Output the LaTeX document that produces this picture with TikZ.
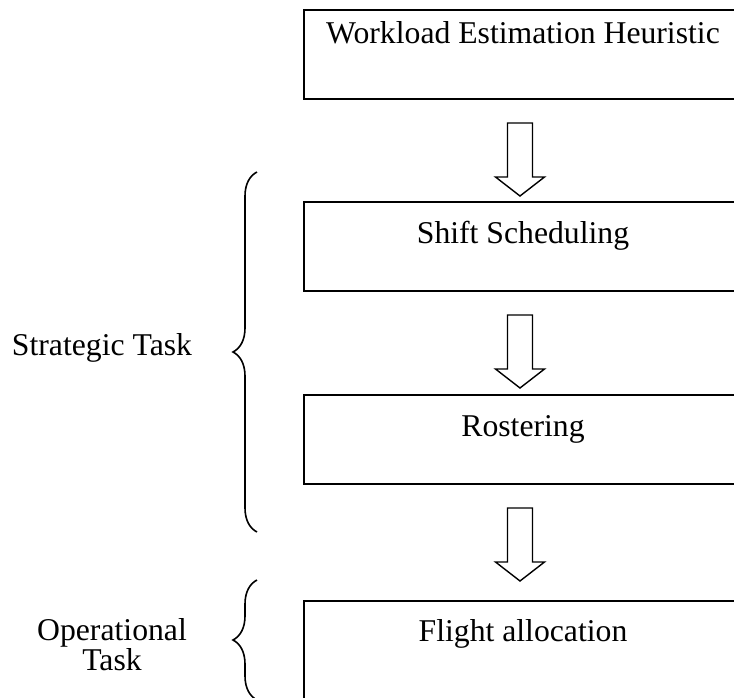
\documentclass[tikz,border=0pt]{standalone}
\usepackage{fontspec}
\setmainfont{Liberation Serif}
\usetikzlibrary{positioning, decorations.pathreplacing}

% hollow block arrow pointing down, hung from a named coordinate
\newcommand{\blockdown}[1]{%
    \draw[flow] (#1) ++(-12.5,0) -- ++(0,54) -- ++(-12,0) -- ++(24.5,19)
        -- ++(24.5,-19) -- ++(-12,0) -- ++(0,-54) -- cycle;}

\begin{document}
\begin{tikzpicture}[
            x = 1pt, y = -1pt, % pixel units, y going down
            font = \fontsize{31.7}{28}\selectfont, % text size
            node distance = 103pt, % gap between boxes
            semithick % line style
        ]

        \tikzstyle{task}=[
            draw = black,
            line width = 2.5pt,
            minimum width = 438pt,
            minimum height = 89pt,
            inner sep = 0pt,
            outer sep = 0pt,
            text height = 18pt,
            text depth = 24pt
        ]

        \tikzstyle{flow}=[
            draw = black,
            line width = 1.4pt,
            line join = miter
        ]

        \tikzstyle{curly}=[
            decorate,
            decoration = {brace, amplitude = 24pt},
            line width = 1.6pt
        ]

        \useasboundingbox (0,0) rectangle (734,697);
        \clip (0,0) rectangle (734,697);

        \node[task, text depth = 41pt, anchor = north west] (wl) at (304,10) {Workload Estimation Heuristic};
        \node[task] (ss) [below = of wl] {Shift Scheduling};
        \node[task] (ro) [below = 104pt of ss] {Rostering};
        \node[task, minimum height = 120pt, text depth = 58pt] (fa) [below = 117pt of ro] {Flight allocation};

        \coordinate (a1) at ([xshift = -3pt, yshift = -24pt]wl.south);
        \coordinate (a2) at ([xshift = -3pt, yshift = -24pt]ss.south);
        \coordinate (a3) at ([xshift = -3pt, yshift = -24pt]ro.south);
        \blockdown{a1}
        \blockdown{a2}
        \blockdown{a3}

        \node[anchor = base] (st) at (102,355) {Strategic Task};
        \node[anchor = base, align = center] (ot) at (112,670) {Operational\\Task};

        \coordinate (st bottom) at (257,532);
        \coordinate (st top) at (257,172);
        \coordinate (ot bottom) at (257,700);
        \coordinate (ot top) at (257,580);

        \draw[curly] (st bottom) -- (st top);
        \draw[curly] (ot bottom) -- (ot top);

  \end{tikzpicture}
\end{document}
